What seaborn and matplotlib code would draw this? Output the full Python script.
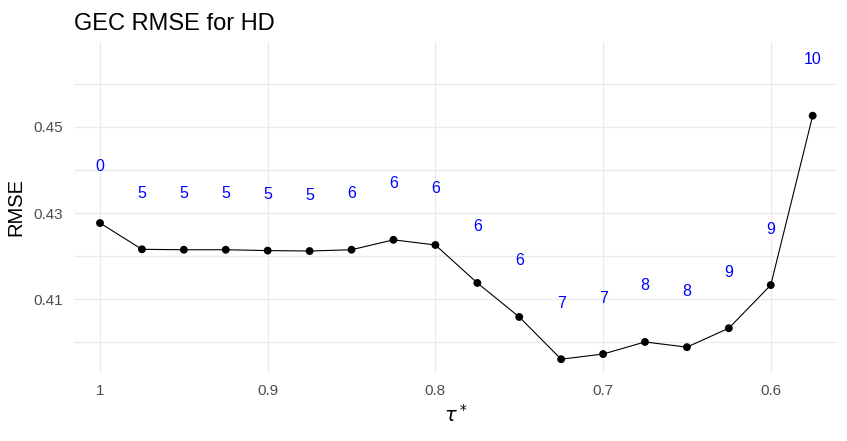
import matplotlib
matplotlib.use("Agg")
import matplotlib.pyplot as plt
import seaborn as sns
import pandas as pd

tau = [1.0, 0.975, 0.95, 0.925, 0.9, 0.875, 0.85, 0.825, 0.8,
       0.775, 0.75, 0.725, 0.7, 0.675, 0.65, 0.625, 0.6, 0.575]
rmse = [0.4277, 0.4216, 0.4215, 0.4215, 0.4213, 0.4212, 0.4215, 0.4238, 0.4226,
        0.4138, 0.4059, 0.3961, 0.3973, 0.4001, 0.3989, 0.4033, 0.4133, 0.4526]
counts = [0, 5, 5, 5, 5, 5, 6, 6, 6, 6, 6, 7, 7, 8, 8, 9, 9, 10]

xticks = [1.0, 0.9, 0.8, 0.7, 0.6]
xtick_labels = ["1", "0.9", "0.8", "0.7", "0.6"]
yticks = [0.41, 0.43, 0.45]
ygrid = [0.40, 0.41, 0.42, 0.43, 0.44, 0.45, 0.46]

df = pd.DataFrame({"tau": tau, "rmse": rmse, "n": counts})

sns.set_style("white")
plt.rcParams["font.family"] = ["Liberation Sans", "DejaVu Sans"]

fig = plt.figure(figsize=(8.47, 4.41), dpi=100)
ax = fig.add_axes([74 / 847, 68 / 441, 763 / 847, 331 / 441])

sns.lineplot(data=df, x="tau", y="rmse", color="black", linewidth=0.8, ax=ax, zorder=3)
sns.scatterplot(data=df, x="tau", y="rmse", color="black", s=32, edgecolor="none", ax=ax, zorder=4)

# labels above each point
for x, y, n in zip(df["tau"], df["rmse"], df["n"]):
    ax.text(x, y + 0.013, str(n), color="blue", fontsize=11.5, ha="center", va="center")

ax.set_xlim(1.0155, 0.5605)
ax.set_ylim(0.3929, 0.4697)

for g in ygrid:
    ax.axhline(g, color="#EBEBEB", linewidth=1, zorder=0)
for g in xticks:
    ax.axvline(g, color="#EBEBEB", linewidth=1, zorder=0)

ax.set_xticks(xticks)
ax.set_xticklabels(xtick_labels)
ax.set_yticks(yticks)
ax.set_yticklabels(["0.41", "0.43", "0.45"])
ax.tick_params(axis="both", length=0, labelsize=11, labelcolor="#4D4D4D", pad=8)

for s in ax.spines.values():
    s.set_visible(False)

ax.set_xlabel(r"$\tau^*$", fontsize=14, color="black", labelpad=4)
ax.set_ylabel("RMSE", fontsize=14.5, color="black", labelpad=6)
ax.set_title("GEC RMSE for HD", fontsize=17, loc="left", pad=9, color="black")

fig.savefig("out.png", dpi=100)
